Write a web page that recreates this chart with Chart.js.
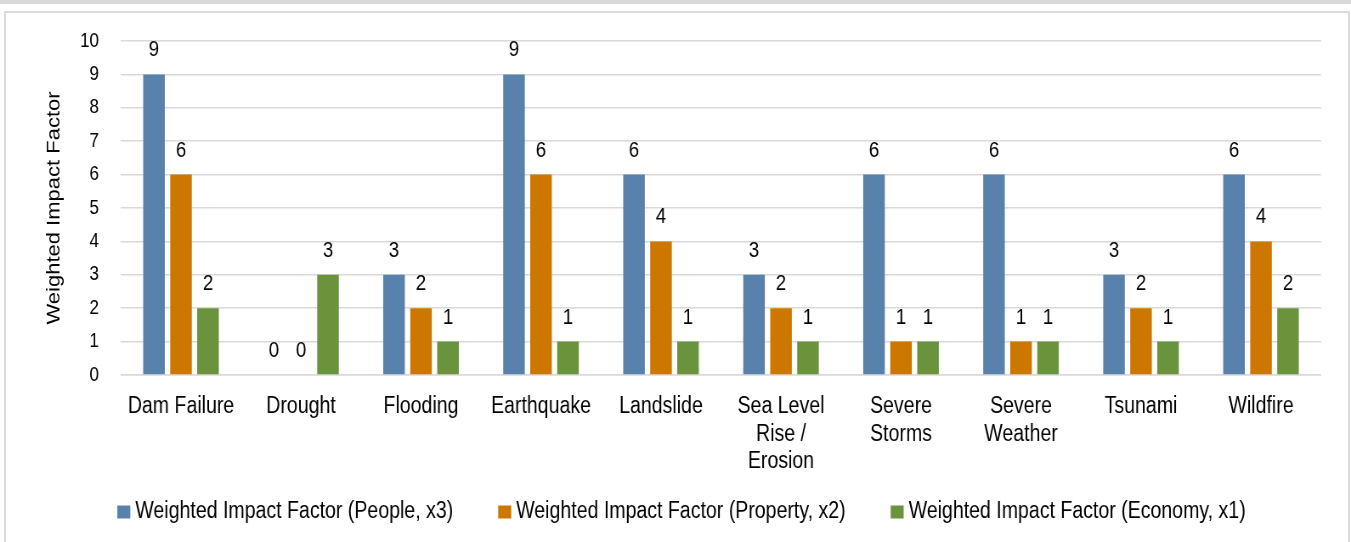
<!DOCTYPE html>
<html>
<head>
<meta charset="utf-8">
<script src="https://cdn.jsdelivr.net/npm/chart.js@4.4.1/dist/chart.umd.min.js"></script>
<style>
  html, body { margin: 0; padding: 0; background: #fff; }
  body { width: 1351px; height: 542px; position: relative; overflow: hidden; }
  #band { position: absolute; left: 0; top: 0; width: 1351px; height: 4px; background: #d9d9d9; }
  #frame { position: absolute; left: 4px; top: 11px; width: 1342px; height: 560px; border: 2px solid #dcdcdc; }
  #wrap { position: absolute; left: 0; top: 0; width: 1351px; height: 542px; }
  #myChart { display: block; width: 1351px; height: 542px; }
</style>
</head>
<body>
<div id="band"></div>
<div id="frame"></div>
<!-- canvas is drawn wider and squeezed to 1351px so the text comes out condensed like the source -->
<div id="wrap"><canvas id="myChart" width="1590" height="542" style="width:1351px;height:542px"></canvas></div>
<script>
//DATA
const categories = ['Dam Failure', 'Drought', 'Flooding', 'Earthquake', 'Landslide',
    ['Sea Level', 'Rise /', 'Erosion'], ['Severe', 'Storms'], ['Severe', 'Weather'], 'Tsunami', 'Wildfire'];
const peopleValues = [9, 0, 3, 9, 6, 3, 6, 6, 3, 6];
const propertyValues = [6, 0, 2, 6, 4, 2, 1, 1, 2, 4];
const economyValues = [2, 3, 1, 1, 1, 1, 1, 1, 1, 2];
const seriesNames = ['Weighted Impact Factor (People, x3)', 'Weighted Impact Factor (Property, x2)', 'Weighted Impact Factor (Economy, x1)'];
const yTicks = [0, 1, 2, 3, 4, 5, 6, 7, 8, 9, 10];

const FONT = '"Liberation Sans", Arial, sans-serif';
const SQUEEZE = 1351 / 1590;

//value labels above the bars
const barLabels = {
    id: 'barLabels',
    afterDatasetsDraw(chart) {
        const ctx = chart.ctx;
        ctx.save();
        ctx.font = '22px ' + FONT;
        ctx.fillStyle = '#000';
        ctx.textAlign = 'center';
        ctx.textBaseline = 'middle';
        chart.data.datasets.forEach((ds, i) => {
            chart.getDatasetMeta(i).data.forEach((bar, j) => {
                ctx.fillText(String(ds.data[j]), bar.x, bar.y - 24);
            });
        });
        ctx.restore();
    }
};

//legend drawn by hand (the built-in one can't space items like the source)
const bottomLegend = {
    id: 'bottomLegend',
    afterDraw(chart) {
        const ctx = chart.ctx;
        const boxW = 13 / SQUEEZE, boxH = 13, gap = 5 / SQUEEZE, spacing = 45 / SQUEEZE;
        const y = 512;
        ctx.save();
        ctx.font = '23px ' + FONT;
        ctx.textBaseline = 'middle';
        ctx.textAlign = 'left';
        const items = chart.data.datasets.map(ds => ({ text: ds.label, color: ds.backgroundColor, w: ctx.measureText(ds.label).width }));
        let total = items.reduce((s, it) => s + boxW + gap + it.w, 0) + spacing * (items.length - 1);
        let x = chart.width / 2 + 6 / SQUEEZE - total / 2;
        items.forEach(it => {
            ctx.fillStyle = it.color;
            ctx.fillRect(x, y - boxH / 2, boxW, boxH);
            ctx.fillStyle = '#000';
            ctx.fillText(it.text, x + boxW + gap, y);
            x += boxW + gap + it.w + spacing;
        });
        ctx.restore();
    }
};

const ctx = document.getElementById('myChart');
const myChart = new Chart(ctx, {
    type: 'bar',
    data: {
        labels: categories,
        datasets: [
            { label: seriesNames[0], data: peopleValues, backgroundColor: '#5882ab' },
            { label: seriesNames[1], data: propertyValues, backgroundColor: '#cc7700' },
            { label: seriesNames[2], data: economyValues, backgroundColor: '#6a943c' }
        ]
    },
    options: {
        responsive: false,
        animation: false,
        devicePixelRatio: 1,
        layout: { padding: { left: 52.6, right: 35.3, top: 41, bottom: 0 } },
        datasets: { bar: { categoryPercentage: 0.675, barPercentage: 0.8 } },
        plugins: {
            tooltip: { enabled: false },
            legend: { display: false }
        },
        scales: {
            x: {
                grid: { display: false, drawTicks: false },
                border: { display: true, color: '#d9d9d9', width: 1.5 },
                ticks: {
                    color: '#000',
                    padding: 18,
                    maxRotation: 0,
                    autoSkip: false,
                    font: { family: FONT, size: 23, lineHeight: 1.2 }
                },
                afterFit(scale) { scale.height = 167; }
            },
            y: {
                min: 0,
                max: 10,
                afterBuildTicks(scale) { scale.ticks = yTicks.map(v => ({ value: v })); },
                grid: { color: '#d9d9d9', lineWidth: 1.5, drawTicks: false },
                border: { display: false },
                ticks: {
                    color: '#000',
                    padding: 26,
                    autoSkip: false,
                    font: { family: FONT, size: 20 }
                },
                title: {
                    display: true,
                    text: 'Weighted Impact Factor',
                    color: '#000',
                    padding: 0,
                    font: { family: FONT, size: 22, lineHeight: 1 }
                },
                afterFit(scale) { scale.width = 89.8; }
            }
        }
    },
    plugins: [barLabels, bottomLegend]
});
</script>
</body>
</html>
